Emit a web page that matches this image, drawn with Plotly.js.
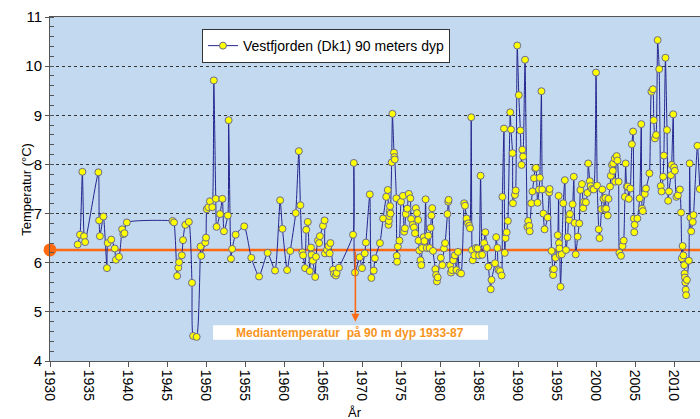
<!DOCTYPE html>
<html><head><meta charset="utf-8">
<script src="https://cdn.plot.ly/plotly-3.0.1.min.js"></script>
<style>html,body{margin:0;padding:0;overflow:hidden;background:#fff}#chart{width:700px;height:419px}</style>
</head><body><div id="chart"></div>
<script>
const seriesName = 'Vestfjorden (Dk1) 90 meters dyp';
const years = [
1933.55,1933.85,1934.15,1934.36,1934.5,1936.2,1936.3,1936.4,1936.85,1937.3,1937.4,1937.85,1938.3,1938.45,1938.85,1939.25,1939.4,1939.55,1939.85,
1945.7,1945.9,1946.3,1946.45,1946.55,1946.9,1947.05,1947.35,1947.8,1948.2,1948.35,1948.8,1949.3,1949.4,1949.9,1950.0,1950.1,1950.3,1950.5,1950.8,
1951.0,1951.25,1951.35,1951.8,1952.1,1952.3,1952.8,1952.9,1953.2,1953.35,1953.8,1954.9,1955.8,1956.8,1957.9,1958.85,1959.5,1959.8,1960.4,1960.8,
1961.5,1961.9,1962.1,1962.35,1962.45,1962.7,1962.85,1963.05,1963.3,1963.45,1963.55,1963.7,1964.0,1964.1,1964.35,1964.5,1964.6,1965.0,1965.2,1965.25,
1965.5,1965.7,1965.85,1965.95,1966.3,1966.4,1966.65,1966.75,1967.05,1968.85,1968.95,1969.1,1969.7,1970.0,1970.35,1970.5,1971.0,1971.2,1971.5,1971.65,
1972.3,1972.7,1973.1,1973.3,1973.4,1973.45,1973.5,1973.55,1973.6,1973.65,1973.8,1973.9,1974.1,1974.15,1974.2,1974.4,1974.45,1974.5,1974.6,1974.8,
1975.0,1975.25,1975.4,1975.5,1975.6,1975.8,1976.0,1976.2,1976.3,1976.5,1976.65,1976.8,1976.9,1977.05,1977.2,1977.25,1977.35,1977.5,1977.6,1977.7,
1977.9,1978.0,1978.15,1978.3,1978.5,1978.65,1978.8,1978.9,1979.0,1979.1,1979.4,1979.5,1979.6,1979.7,1980.1,1980.3,1980.5,1980.65,1980.95,1981.05,
1981.1,1981.3,1981.4,1981.5,1981.7,1981.9,1982.1,1982.3,1982.5,1982.7,1983.1,1983.2,1983.4,1983.6,1983.75,1983.85,1984.0,1984.1,1984.2,1984.4,
1984.6,1984.8,1985.0,1985.2,1985.4,1985.65,1985.8,1986.0,1986.2,1986.5,1986.6,1987.05,1987.2,1987.35,1987.5,1987.7,1987.9,1988.0,1988.2,1988.3,
1988.4,1988.55,1988.7,1989.0,1989.1,1989.3,1989.35,1989.6,1989.7,1989.9,1990.1,1990.3,1990.45,1990.55,1990.65,1990.9,1991.2,1991.3,1991.45,1991.5,
1991.7,1991.85,1992.05,1992.2,1992.3,1992.5,1992.7,1992.8,1993.0,1993.1,1993.25,1993.4,1993.8,1994.0,1994.05,1994.3,1994.45,1994.5,1994.6,1994.8,
1995.1,1995.2,1995.25,1995.3,1995.35,1995.45,1995.6,1995.8,1996.0,1996.15,1996.35,1996.5,1996.55,1996.65,1997.0,1997.15,1997.25,1997.4,1997.65,1997.85,
1998.0,1998.2,1998.35,1998.45,1998.7,1998.9,1999.0,1999.2,1999.3,1999.5,1999.7,2000.0,2000.15,2000.35,2000.45,2000.7,2000.8,2000.95,2001.1,2001.2,
2001.3,2001.5,2001.6,2001.8,2001.9,2002.05,2002.15,2002.2,2002.4,2002.45,2002.65,2002.75,2002.9,2003.0,2003.2,2003.4,2003.55,2003.7,2003.8,2003.95,
2004.05,2004.2,2004.4,2004.6,2004.75,2004.85,2004.9,2004.95,2005.3,2005.6,2005.8,2005.9,2006.0,2006.25,2006.4,2006.85,2007.1,2007.3,2007.4,2007.55,
2007.7,2007.9,2008.1,2008.3,2008.4,2008.6,2008.7,2008.9,2009.1,2009.25,2009.35,2009.6,2009.7,2009.9,2010.0,2010.1,2010.3,2010.5,2010.75,2010.9,
2011.0,2011.1,2011.2,2011.3,2011.35,2011.4,2011.45,2011.5,2011.55,2011.65,2011.9,2012.0,2012.1,2012.2,2012.4,2012.5,2013.0,2013.3
];
const temps = [
6.37,6.57,7.85,6.54,6.42,7.84,6.86,6.54,6.94,5.89,6.40,6.47,6.29,6.06,6.12,6.68,6.58,6.60,6.82,
6.85,6.82,5.73,5.90,6.01,6.15,6.46,6.77,6.83,5.59,4.51,4.49,6.33,6.14,6.41,6.51,7.09,7.13,7.25,7.13,
9.71,7.30,6.73,6.99,7.30,6.64,6.96,8.90,6.08,6.28,6.57,6.74,6.10,5.72,6.20,5.84,7.27,6.69,5.85,6.24,
7.01,8.27,7.17,6.21,6.15,5.89,6.67,6.83,5.83,6.31,6.16,6.04,5.71,6.12,6.45,6.40,6.54,6.75,6.86,6.19,
6.26,6.34,6.19,6.40,5.86,5.77,5.74,5.79,5.90,6.57,8.03,5.80,6.11,5.89,6.19,6.41,7.39,5.69,5.84,6.09,
6.40,6.90,7.34,7.48,6.77,6.85,6.95,7.05,7.15,7.00,8.04,9.03,8.24,8.15,8.10,7.31,6.14,6.02,6.33,6.45,
7.24,7.36,6.63,6.70,6.99,7.10,7.40,7.31,6.89,6.77,6.72,6.60,7.11,7.01,6.87,6.45,6.25,6.05,5.95,6.30,
6.52,6.44,7.29,6.30,6.55,6.30,6.71,6.96,7.11,6.24,5.87,5.75,5.62,5.70,6.10,5.95,6.29,6.40,6.99,7.24,
7.28,5.95,5.80,5.85,6.05,6.15,5.85,6.22,5.80,5.78,7.21,7.16,6.90,6.80,6.75,6.70,8.96,6.26,6.05,6.15,
6.30,6.29,6.15,7.77,6.16,6.40,6.62,6.30,5.92,5.46,5.65,5.99,6.52,6.30,5.85,5.83,5.74,7.34,8.73,6.20,
6.50,6.62,6.85,9.06,8.71,8.23,7.21,7.38,7.47,10.42,9.41,8.69,7.99,8.30,8.16,10.13,6.73,6.85,6.75,6.64,
7.21,7.45,7.72,7.92,7.93,7.22,7.49,7.73,9.49,7.49,7.00,6.68,6.92,7.43,7.50,6.24,5.86,5.75,5.87,6.10,
6.56,7.36,6.40,6.29,6.16,5.51,6.17,7.21,7.68,6.26,6.52,6.96,6.87,6.99,7.19,7.75,6.81,6.17,6.53,6.80,
7.48,7.60,7.11,7.24,7.23,7.42,8.02,7.66,7.56,7.50,7.49,9.87,7.57,6.68,6.50,7.09,7.49,7.30,7.10,7.32,
7.10,6.96,7.30,7.55,7.77,7.99,7.87,8.02,8.12,7.65,8.17,8.08,7.65,6.20,6.14,6.34,6.45,7.34,8.02,7.55,
7.55,7.30,7.51,8.41,8.67,6.90,6.62,6.77,6.90,7.31,8.82,7.10,7.05,7.40,7.51,7.82,9.48,9.53,8.90,8.53,
8.60,10.53,9.94,7.56,7.45,7.75,8.18,10.17,8.70,7.26,7.45,7.78,7.99,9.02,7.94,7.87,7.34,7.37,7.49,7.02,
6.09,6.34,6.15,5.95,5.78,5.70,5.60,5.45,5.34,5.65,6.04,8.02,6.92,6.64,6.83,6.97,8.38,7.50
];
const medianLabel = 'Mediantemperatur  på 90 m dyp 1933-87';
const medianValue = 6.26;
const medianArrowYear = 1969.15;
const xTickVals = [1930,1935,1940,1945,1950,1955,1960,1965,1970,1975,1980,1985,1990,1995,2000,2005,2010];
const xRange = [1930, 2013.33];
const yRange = [4, 11];

const orange = '#FF6A10';
const traces = [
  {x: [xRange[0], xRange[1]], y: [medianValue, medianValue], mode: 'lines',
   line: {color: orange, width: 2.5}, showlegend: false, hoverinfo: 'skip'},
  {x: years, y: temps, mode: 'lines+markers', name: seriesName,
   line: {color: '#25258F', width: 1, shape: 'spline', smoothing: 0.5},
   marker: {color: '#FFFF00', size: 7, line: {color: '#6A6A90', width: 1}}},
  {x: [xRange[0]], y: [medianValue], mode: 'markers', cliponaxis: false,
   marker: {color: orange, size: 13}, showlegend: false, hoverinfo: 'skip'}
];

const layout = {
  width: 700, height: 419,
  margin: {l: 50, r: 0, t: 17, b: 58},
  paper_bgcolor: '#ffffff',
  plot_bgcolor: '#C3D9EF',
  font: {family: 'Liberation Sans, Arial, sans-serif', color: '#000'},
  xaxis: {range: xRange, tickvals: xTickVals, ticktext: xTickVals.map(String), tickangle: 90,
    ticks: 'outside', ticklen: 5, tickcolor: '#555', showgrid: false, zeroline: false,
    showline: true, linecolor: '#555', linewidth: 1, mirror: true,
    tickfont: {size: 14, family: 'Liberation Sans, Arial, sans-serif'}},
  yaxis: {range: yRange, dtick: 1, ticks: 'outside', ticklen: 4, tickcolor: '#555',
    showgrid: true, gridcolor: '#333', griddash: 'dot', gridwidth: 1, zeroline: false,
    showline: true, linecolor: '#555', linewidth: 1,
    minor: {dtick: 0.2, ticks: 'inside', ticklen: 4, tickcolor: '#555', showgrid: false},
    tickfont: {size: 15, family: 'Liberation Sans, Arial, sans-serif'}},
  showlegend: true,
  legend: {x: 0.2338, y: 0.965, xanchor: 'left', yanchor: 'top', bgcolor: '#ffffff',
    bordercolor: '#333', borderwidth: 1, font: {size: 14}},
  shapes: [
    {type: 'rect', xref: 'x', yref: 'y', x0: 1950.9, x1: 1986.15, y0: 4.43, y1: 4.73,
     fillcolor: '#ffffff', line: {width: 0}, layer: 'above'}
  ],
  annotations: [
    {x: medianArrowYear, y: 4.80, ax: medianArrowYear, ay: medianValue, xref: 'x', yref: 'y',
     axref: 'x', ayref: 'y', text: '', showarrow: true, arrowhead: 2, arrowsize: 1,
     arrowwidth: 1.6, arrowcolor: orange},
    {x: 1968.5, y: 4.58, xref: 'x', yref: 'y', text: '<b>' + medianLabel + '</b>', showarrow: false,
     font: {size: 12, color: '#F7941D'}},
    {x: -0.052, y: 0.5, xref: 'paper', yref: 'paper', text: 'Temperatur (°C)', textangle: -90,
     showarrow: false, font: {size: 13}},
    {x: 0.469, y: -0.151, xref: 'paper', yref: 'paper', text: 'År', showarrow: false,
     yanchor: 'middle', font: {size: 13}}
  ]
};
Plotly.newPlot('chart', traces, layout, {displayModeBar: false, staticPlot: true});
</script></body></html>
